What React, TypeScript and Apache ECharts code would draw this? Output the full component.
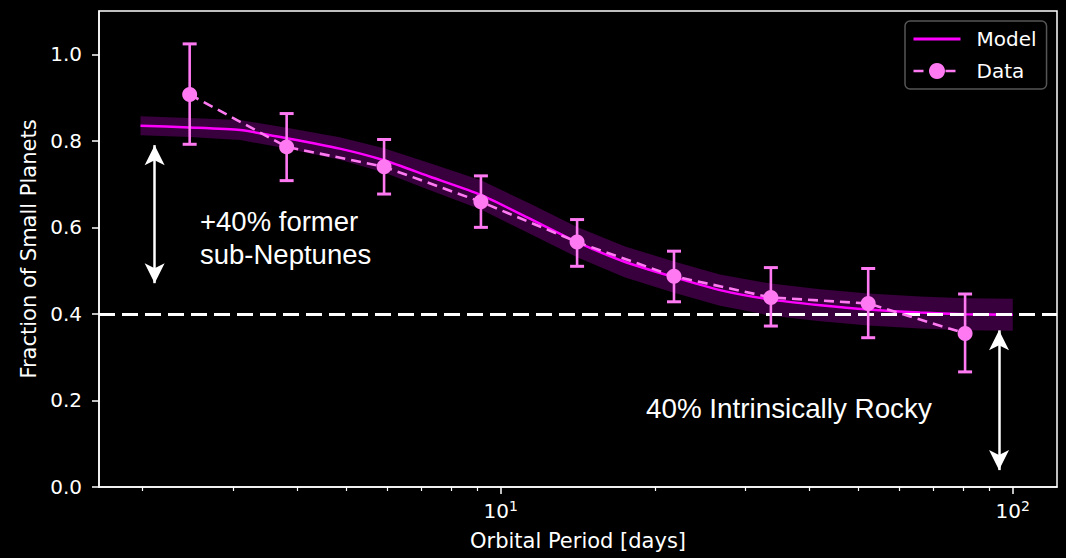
import React, { useEffect, useRef } from "react";
import * as echarts from "echarts";

// ---- Data ----
const dataPeriod = [2.47, 3.82, 5.92, 9.15, 14.1, 21.8, 33.7, 52.2, 80.7];
const dataValue = [0.907, 0.786, 0.740, 0.659, 0.566, 0.487, 0.438, 0.424, 0.355];
const dataLow = [0.792, 0.708, 0.677, 0.600, 0.510, 0.428, 0.372, 0.345, 0.266];
const dataHigh = [1.024, 0.863, 0.803, 0.719, 0.618, 0.545, 0.507, 0.505, 0.446];

const modelPeriod = [1.98, 2.47, 3.10, 3.82, 4.85, 5.92, 7.28, 9.15, 11.4, 14.1, 17.5, 21.8, 26.8, 33.7, 42.1, 52.2, 65.9, 80.7, 100];
const modelValue = [0.835, 0.831, 0.825, 0.806, 0.782, 0.755, 0.717, 0.675, 0.620, 0.566, 0.520, 0.485, 0.455, 0.433, 0.420, 0.410, 0.403, 0.399, 0.398];
const modelBandHalf = [0.022, 0.022, 0.023, 0.024, 0.026, 0.028, 0.031, 0.034, 0.035, 0.035, 0.036, 0.036, 0.036, 0.037, 0.037, 0.037, 0.037, 0.037, 0.037];

const yTicks = [0, 0.2, 0.4, 0.6, 0.8, 1.0];
const xMajorPeriods = [10, 100];
const xMinorPeriods = [2, 3, 4, 5, 6, 7, 8, 9, 20, 30, 40, 50, 60, 70, 80, 90];
const xRangePeriod = [1.643, 122];

const baseline = 0.4;
const leftArrow = { period: 2.11, from: 0.79, to: 0.471 };
const rightArrow = { period: 94, from: 0.362, to: 0.039 };

const MODEL_COLOR = "#ff00ff";
const DATA_COLOR = "#ff79f2";
const BAND_COLOR = "#38003c";

const lg = (p: number) => Math.log10(p);

export default function App() {
  const ref = useRef<HTMLDivElement>(null);

  useEffect(() => {
    if (!ref.current) return;
    const chart = echarts.init(ref.current, null, { renderer: "svg" });

    const xMin = lg(xRangePeriod[0]);
    const xMax = lg(xRangePeriod[1]);
    const majorLogs = xMajorPeriods.map(lg);
    const minorLogs = xMinorPeriods.map(lg);

    const bandData = modelPeriod.map((p, i) => [lg(p), modelValue[i] - modelBandHalf[i], modelValue[i] + modelBandHalf[i]]);
    const modelData = modelPeriod.map((p, i) => [lg(p), modelValue[i]]);
    const pointData = dataPeriod.map((p, i) => [lg(p), dataValue[i]]);
    const errData = dataPeriod.map((p, i) => [lg(p), dataLow[i], dataHigh[i]]);

    const font = "DejaVu Sans";

    const option: any = {
      animation: false,
      backgroundColor: "#000",
      grid: {
        left: 99,
        right: 9,
        top: 11,
        bottom: 71,
        show: true,
        borderColor: "#fff",
        borderWidth: 1.5,
        backgroundColor: "transparent",
      },
      legend: {
        data: [
          { name: "Model", itemStyle: { opacity: 0 }, lineStyle: { width: 3 } },
          { name: "Data", lineStyle: { width: 2.5 } },
        ],
        orient: "vertical",
        left: 905,
        top: 21,
        padding: [8, 10, 8, 7],
        itemWidth: 47,
        itemHeight: 20,
        itemGap: 12,
        backgroundColor: "#000",
        borderColor: "#555",
        borderWidth: 1.5,
        borderRadius: 5,
        textStyle: { color: "#fff", fontSize: 20, fontFamily: font, padding: [0, 0, 0, 11] },
      },
      xAxis: [
        {
          type: "value",
          min: xMin,
          max: xMax,
          position: "bottom",
          axisLine: { show: true, onZero: false, lineStyle: { color: "#fff", width: 1.5 } },
          axisTick: { show: true, customValues: majorLogs, length: 7, lineStyle: { color: "#fff", width: 1.5 } },
          axisLabel: {
            customValues: majorLogs,
            margin: 12,
            color: "#fff",
            formatter: (v: number) => `{b|10}{s|${Math.round(v)}}`,
            rich: {
              b: { fontSize: 20, fontFamily: font, color: "#fff" },
              s: { fontSize: 14, fontFamily: font, color: "#fff", padding: [0, 0, 9, 0] },
            },
          },
          splitLine: { show: false },
          name: "Orbital Period [days]",
          nameLocation: "middle",
          nameGap: 43,
          nameTextStyle: { color: "#fff", fontSize: 21, fontFamily: font },
        },
        {
          type: "value",
          min: xMin,
          max: xMax,
          position: "bottom",
          axisLine: { show: false, onZero: false },
          axisTick: { show: true, customValues: minorLogs, length: 4, lineStyle: { color: "#fff", width: 1.2 } },
          axisLabel: { show: false },
          splitLine: { show: false },
        },
      ],
      yAxis: {
        type: "value",
        min: 0,
        max: 1.1,
        axisLine: { show: true, lineStyle: { color: "#fff", width: 1.5 } },
        axisTick: { show: true, customValues: yTicks, length: 7, lineStyle: { color: "#fff", width: 1.5 } },
        axisLabel: {
          customValues: yTicks,
          margin: 17,
          color: "#fff",
          fontSize: 20,
          fontFamily: font,
          formatter: (v: number) => v.toFixed(1),
        },
        splitLine: { show: false },
        name: "Fraction of Small Planets",
        nameLocation: "middle",
        nameGap: 57,
        nameRotate: 90,
        nameTextStyle: { color: "#fff", fontSize: 21, fontFamily: font },
      },
      series: [
        {
          type: "custom",
          name: "band",
          z: 1,
          silent: true,
          data: bandData,
          encode: { x: 0, y: [1, 2] },
          renderItem: (params: any, api: any) => {
            if (params.dataIndex !== 0) return null;
            const upper = bandData.map((d) => api.coord([d[0], d[2]]));
            const lower = bandData.map((d) => api.coord([d[0], d[1]])).reverse();
            return {
              type: "polygon",
              shape: { points: upper.concat(lower) },
              style: { fill: BAND_COLOR, stroke: "none" },
            };
          },
        },
        {
          type: "line",
          name: "Model",
          z: 2,
          data: modelData,
          smooth: 0.2,
          symbol: "none",
          lineStyle: { color: MODEL_COLOR, width: 2.5 },
          itemStyle: { color: MODEL_COLOR },
          markLine: {
            silent: true,
            z: 3,
            symbol: ["none", "none"],
            label: { show: false },
            lineStyle: { color: "#fff", type: [16, 7], width: 3 },
            data: [{ yAxis: baseline }],
          },
        },
        {
          type: "line",
          name: "Data",
          z: 6,
          data: pointData,
          symbol: "circle",
          symbolSize: 15,
          lineStyle: { color: DATA_COLOR, width: 2.6, type: [10, 6] },
          itemStyle: { color: DATA_COLOR },
        },
        {
          type: "custom",
          name: "errorbars",
          z: 6,
          silent: true,
          data: errData,
          encode: { x: 0, y: [1, 2] },
          renderItem: (params: any, api: any) => {
            const x = api.value(0);
            const lo = api.coord([x, api.value(1)]);
            const hi = api.coord([x, api.value(2)]);
            const cw = 7;
            const st = { stroke: DATA_COLOR, lineWidth: 2.6 };
            const cap = { stroke: DATA_COLOR, lineWidth: 3 };
            return {
              type: "group",
              children: [
                { type: "line", shape: { x1: lo[0], y1: lo[1], x2: hi[0], y2: hi[1] }, style: st },
                { type: "line", shape: { x1: lo[0] - cw, y1: lo[1], x2: lo[0] + cw, y2: lo[1] }, style: cap },
                { type: "line", shape: { x1: hi[0] - cw, y1: hi[1], x2: hi[0] + cw, y2: hi[1] }, style: cap },
              ],
            };
          },
        },
        {
          type: "line",
          name: "arrows",
          z: 7,
          data: [],
          markLine: {
            silent: true,
            z: 7,
            symbol: ["arrow", "arrow"],
            symbolSize: [15, 20],
            label: { show: false },
            lineStyle: { color: "#fff", width: 2.5, type: "solid" },
            itemStyle: { color: "#fff" },
            data: [
              [{ coord: [lg(leftArrow.period), leftArrow.from] }, { coord: [lg(leftArrow.period), leftArrow.to] }],
              [{ coord: [lg(rightArrow.period), rightArrow.from] }, { coord: [lg(rightArrow.period), rightArrow.to] }],
            ],
          },
        },
      ],
      graphic: [
        {
          type: "text",
          x: 200,
          y: 205,
          z: 10,
          style: {
            text: "+40% former\nsub-Neptunes",
            fill: "#fff",
            fontSize: 27.5,
            fontFamily: "Liberation Sans",
            lineHeight: 33,
            verticalAlign: "top",
          },
        },
        {
          type: "text",
          x: 646,
          y: 408,
          z: 10,
          style: {
            text: "40% Intrinsically Rocky",
            fill: "#fff",
            fontSize: 27.8,
            fontFamily: "Liberation Sans",
            verticalAlign: "middle",
          },
        },
      ],
    };

    chart.setOption(option);
    return () => chart.dispose();
  }, []);

  return (
    <div
      ref={ref}
      style={{ position: "absolute", left: 0, top: 0, width: 1066, height: 558, background: "#000" }}
    />
  );
}
